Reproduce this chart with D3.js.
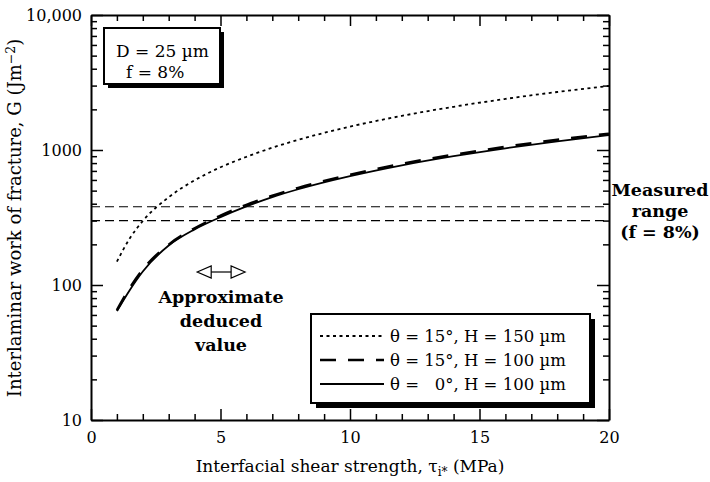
<!DOCTYPE html>
<html>
<head>
<meta charset="utf-8">
<script src="https://cdn.jsdelivr.net/npm/d3@7"></script>
<style>
  body { margin: 0; background: #fff; }
  svg text { font-family: "DejaVu Serif", serif; fill: #000; }
  .axis path { stroke: #000; stroke-width: 2; }
  .axis line { stroke: #000; stroke-width: 1.5; }
</style>
</head>
<body>
<div id="chart"></div>
<script>
// values
var tau = [1, 1.5, 2, 3, 4, 5, 6, 7, 8, 10, 12, 14, 16, 18, 20];
var g15h150 = [149, 222, 298, 447, 596, 745, 890, 1040, 1190, 1490, 1790, 2090, 2390, 2690, 2980];
var g15h100 = [65, 95, 130, 199, 263, 326, 392, 458, 524, 656, 790, 922, 1055, 1190, 1320];
var g0h100 = [64, 92, 126, 196, 258, 318, 382, 448, 512, 640, 770, 900, 1030, 1160, 1290];
var measuredRange = [300, 380];
var xTicks = [0, 5, 10, 15, 20];
var yTicks = [10, 100, 1000, 10000];
var yTickLabels = ["10", "100", "1000", "10,000"];
var seriesNames = ["\u03b8 = 15\u00b0, H = 150 \u00b5m", "\u03b8 = 15\u00b0, H = 100 \u00b5m", "\u03b8 =   0\u00b0, H = 100 \u00b5m"];
var deducedRange = [4.1, 5.95];

var width = 710, height = 482;
var pLeft = 91, pRight = 609, pTop = 15, pBottom = 420;

var svg = d3.select("#chart").append("svg")
    .attr("width", width)
    .attr("height", height);

var x = d3.scaleLinear().domain([0, 20]).range([pLeft, pRight]);
var y = d3.scaleLog().domain([10, 10000]).range([pBottom, pTop]);

var xMinor = d3.range(0, 21).filter(function (d) { return d % 5 !== 0; });
var yMinor = [];
[10, 100, 1000].forEach(function (p) {
    for (var k = 2; k <= 9; k++) yMinor.push(k * p);
});

// minor ticks first, then the major axes on top
function minor(axis, g) {
    g.call(axis).call(function (s) { s.select(".domain").remove(); s.selectAll("text").remove(); });
}
minor(d3.axisBottom(x).tickValues(xMinor).tickSizeInner(-6).tickSizeOuter(0),
    svg.append("g").attr("class", "axis").attr("transform", "translate(0," + pBottom + ")"));
minor(d3.axisTop(x).tickValues(xMinor).tickSizeInner(-6).tickSizeOuter(0),
    svg.append("g").attr("class", "axis").attr("transform", "translate(0," + pTop + ")"));
minor(d3.axisLeft(y).tickValues(yMinor).tickSizeInner(-6).tickSizeOuter(0),
    svg.append("g").attr("class", "axis").attr("transform", "translate(" + pLeft + ",0)"));
minor(d3.axisRight(y).tickValues(yMinor).tickSizeInner(-6).tickSizeOuter(0),
    svg.append("g").attr("class", "axis").attr("transform", "translate(" + pRight + ",0)"));

svg.append("g").attr("class", "axis")
    .attr("transform", "translate(0," + pBottom + ")")
    .call(d3.axisBottom(x).tickValues(xTicks).tickSizeInner(-11).tickSizeOuter(0).tickPadding(12))
    .selectAll("text").attr("font-size", 16).attr("font-family", "DejaVu Serif");
svg.append("g").attr("class", "axis")
    .attr("transform", "translate(0," + pTop + ")")
    .call(d3.axisTop(x).tickValues(xTicks).tickSizeInner(-11).tickSizeOuter(0).tickFormat(""));
svg.append("g").attr("class", "axis")
    .attr("transform", "translate(" + pLeft + ",0)")
    .call(d3.axisLeft(y).tickValues(yTicks).tickSizeInner(-12).tickSizeOuter(0).tickPadding(9)
        .tickFormat(function (d, i) { return yTickLabels[i]; }))
    .selectAll("text").attr("font-size", 16).attr("font-family", "DejaVu Serif");
svg.append("g").attr("class", "axis")
    .attr("transform", "translate(" + pRight + ",0)")
    .call(d3.axisRight(y).tickValues(yTicks).tickSizeInner(-12).tickSizeOuter(0).tickFormat(""));

svg.selectAll(".axis text").attr("fill", "#000");

// measured range lines
svg.selectAll(".range")
    .data(measuredRange)
    .enter().append("line")
    .attr("x1", x(0)).attr("x2", x(20))
    .attr("y1", function (d) { return y(d); })
    .attr("y2", function (d) { return y(d); })
    .attr("stroke", "#000")
    .attr("stroke-width", 1.2)
    .attr("stroke-dasharray", "9,5");

var line = d3.line()
    .x(function (d) { return x(d[0]); })
    .y(function (d) { return y(d[1]); })
    .curve(d3.curveMonotoneX);

var series = [
    { values: g15h150, dash: "3,3.5", w: 1.8 },
    { values: g15h100, dash: "16,12", w: 2.6 },
    { values: g0h100, dash: null, w: 1.8 }
];

series.forEach(function (s) {
    svg.append("path")
        .datum(tau.map(function (t, i) { return [t, s.values[i]]; }))
        .attr("d", line)
        .attr("fill", "none")
        .attr("stroke", "#000")
        .attr("stroke-width", s.w)
        .attr("stroke-dasharray", s.dash);
});

// boxes with a drop shadow
function shadowBox(x0, y0, w, h, off) {
    svg.append("rect").attr("x", x0 + off).attr("y", y0 + off)
        .attr("width", w).attr("height", h).attr("fill", "#000");
    svg.append("rect").attr("x", x0).attr("y", y0)
        .attr("width", w).attr("height", h)
        .attr("fill", "#fff").attr("stroke", "#000").attr("stroke-width", 2);
}

shadowBox(104, 28, 116, 56, 4);
svg.append("text").attr("x", 116).attr("y", 57).attr("font-size", 17).text("D = 25 \u00b5m");
svg.append("text").attr("x", 126).attr("y", 78).attr("font-size", 17).text("f = 8%");

shadowBox(311, 314, 279, 89, 5);
var legY = [336, 360, 384];
series.forEach(function (s, i) {
    svg.append("line")
        .attr("x1", 320).attr("x2", 384)
        .attr("y1", legY[i]).attr("y2", legY[i])
        .attr("stroke", "#000")
        .attr("stroke-width", s.w)
        .attr("stroke-dasharray", s.dash);
    svg.append("text")
        .attr("x", 390).attr("y", legY[i] + 6)
        .attr("font-size", 16.5)
        .attr("xml:space", "preserve")
        .style("white-space", "pre")
        .text(seriesNames[i]);
});

// approximate deduced value arrow
var ay = 272, ax0 = x(deducedRange[0]), ax1 = x(deducedRange[1]);
svg.append("line").attr("x1", ax0 + 12).attr("x2", ax1 - 12)
    .attr("y1", ay).attr("y2", ay).attr("stroke", "#000").attr("stroke-width", 1.2);
svg.append("path")
    .attr("d", "M" + ax0 + "," + ay + "L" + (ax0 + 14) + "," + (ay - 6) + "L" + (ax0 + 14) + "," + (ay + 6) + "Z" +
        "M" + ax1 + "," + ay + "L" + (ax1 - 14) + "," + (ay - 6) + "L" + (ax1 - 14) + "," + (ay + 6) + "Z")
    .attr("fill", "#fff").attr("stroke", "#000").attr("stroke-width", 1.2);

var approx = ["Approximate", "deduced", "value"];
approx.forEach(function (t, i) {
    svg.append("text")
        .attr("x", 221).attr("y", 303 + i * 24)
        .attr("text-anchor", "middle")
        .attr("font-size", 17.5).attr("font-weight", "bold")
        .text(t);
});

var meas = ["Measured", "range", "(f = 8%)"];
meas.forEach(function (t, i) {
    svg.append("text")
        .attr("x", 660).attr("y", 196 + i * 21)
        .attr("text-anchor", "middle")
        .attr("font-size", 17.5).attr("font-weight", "bold")
        .text(t);
});

// axis titles
var xl = svg.append("text")
    .attr("x", (pLeft + pRight) / 2).attr("y", 472)
    .attr("text-anchor", "middle")
    .attr("font-size", 17);
xl.append("tspan").text("Interfacial shear strength, \u03c4");
xl.append("tspan").attr("font-size", 12).attr("dy", 4).text("i*");
xl.append("tspan").attr("dy", -4).text(" (MPa)");

var yl = svg.append("text")
    .attr("transform", "translate(21,218) rotate(-90)")
    .attr("text-anchor", "middle")
    .attr("font-size", 18);
yl.append("tspan").text("Interlaminar work of fracture, G (Jm");
yl.append("tspan").attr("font-size", 12.5).attr("dy", -6).text("\u22122");
yl.append("tspan").attr("dy", 6).text(")");
</script>
</body>
</html>
